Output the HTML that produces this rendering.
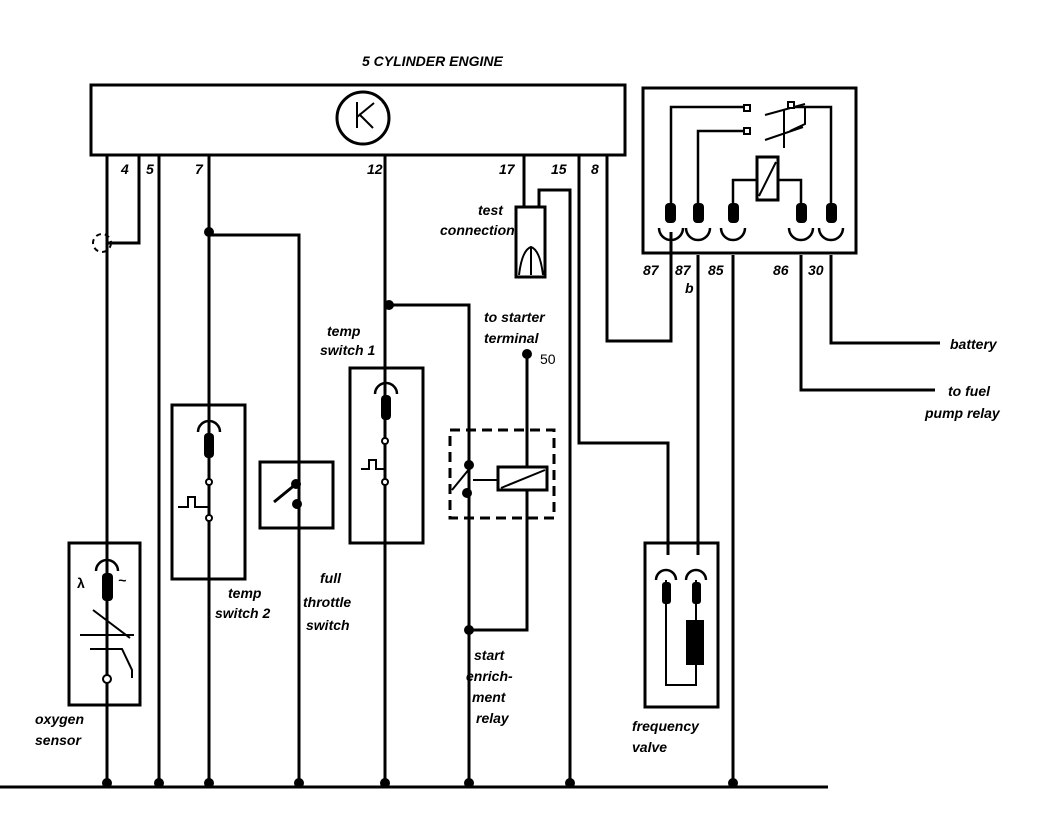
<!DOCTYPE html>
<html><head><meta charset="utf-8"><style>
body{margin:0;background:#fff}
svg{display:block}
text{font-family:"Liberation Sans",sans-serif;font-style:italic;font-weight:bold;font-size:14px;fill:#000}
</style></head><body>
<svg width="1056" height="826" viewBox="0 0 1056 826" xmlns="http://www.w3.org/2000/svg">
<g fill="none" stroke="#000" stroke-width="3">
<rect x="91" y="85" width="534" height="70"/>
<circle cx="363" cy="118" r="26"/>
<path d="M357 102V128M357 117L374 103M359 114L373 128" stroke-width="2"/>
<path d="M0 787H828"/>
<path d="M107 155V787M139 155V243H107M159 155V787"/>
<path d="M209 155V787M209 235H299V787"/>
<path d="M385 155V787M387 305H469V787"/>
<path d="M524 155V207M539 207V190H570V787"/>
<rect x="516" y="207" width="29" height="70"/>
<path d="M519 275Q522 250 531 247Q540 250 543 275M531 247V275" stroke-width="2"/>
<path d="M579 155V443H668V555"/>
<path d="M607 155V341H671V232"/>
<rect x="643" y="88" width="213" height="165"/>
<path d="M671 212V107H745M698 212V131H745M733 212V180H757M778 180H801V212M831 212V107H792" stroke-width="2.5"/>
<rect x="757" y="157" width="21" height="43"/>
<path d="M759 196L776 162" stroke-width="2"/>
<path d="M765 115L805 104M765 140L803 127M790 131L805 124V107M784 110V148" stroke-width="2"/>
<path d="M698 255V555M733 255V787M801 255V390H935M831 255V343H940"/>
<rect x="645" y="543" width="73" height="164"/>
<path d="M666 580V685H696V580" stroke-width="2"/>
<rect x="172" y="405" width="73" height="174"/>
<rect x="260" y="462" width="73" height="66"/>
<rect x="350" y="368" width="73" height="175"/>
<rect x="69" y="543" width="71" height="162"/>
<rect x="450" y="430" width="104" height="88" stroke-dasharray="10,6"/>
<path d="M527 354V630H469"/>
<path d="M452 490L470 468M473 480H498" stroke-width="2"/>
<rect x="498" y="467" width="49" height="23" fill="#fff"/>
<path d="M501 488L545 470" stroke-width="2"/>
<path d="M274 502L296 484"/>
<path d="M178 507H188V497H195V507H209M361 469H369V460H376V469H385" stroke-width="2"/>
<path d="M80 635H134M93 610L130 638M90 649H122L132 670V678" stroke-width="2"/>
<circle cx="102" cy="243" r="9" stroke-width="2" stroke-dasharray="5,4"/>
</g>
<g fill="#fff" stroke="#000" stroke-width="2">
<circle cx="209" cy="482" r="3"/><circle cx="209" cy="518" r="3"/>
<circle cx="385" cy="441" r="3"/><circle cx="385" cy="482" r="3"/>
<circle cx="107" cy="679" r="4"/>
<rect x="744" y="105" width="6" height="6"/><rect x="788" y="102" width="6" height="6"/><rect x="744" y="128" width="6" height="6"/>
</g>
<g fill="#000">
<circle cx="209" cy="232" r="5"/><circle cx="389" cy="305" r="5"/><circle cx="527" cy="354" r="5"/>
<circle cx="469" cy="630" r="5"/><circle cx="469" cy="465" r="5"/><circle cx="467" cy="493" r="5"/>
<circle cx="296" cy="484" r="5"/><circle cx="297" cy="504" r="5"/>
<circle cx="107" cy="783" r="5"/><circle cx="159" cy="783" r="5"/><circle cx="209" cy="783" r="5"/><circle cx="299" cy="783" r="5"/><circle cx="385" cy="783" r="5"/><circle cx="469" cy="783" r="5"/><circle cx="570" cy="783" r="5"/><circle cx="733" cy="783" r="5"/>
<rect x="686" y="620" width="18" height="45"/>
<rect x="665" y="203" width="11" height="20" rx="4"/><rect x="693" y="203" width="11" height="20" rx="4"/><rect x="728" y="203" width="11" height="20" rx="4"/><rect x="796" y="203" width="11" height="20" rx="4"/><rect x="826" y="203" width="11" height="20" rx="4"/>
<rect x="204" y="433" width="10" height="25" rx="4"/><rect x="381" y="395" width="10" height="25" rx="4"/><rect x="102" y="573" width="11" height="28" rx="4"/>
<rect x="662" y="582" width="9" height="22" rx="3"/><rect x="692" y="582" width="9" height="22" rx="3"/>
</g>
<g fill="none" stroke="#000" stroke-width="2.5">
<path d="M659 228a12 12 0 0 0 24 0M686 228a12 12 0 0 0 24 0M721 228a12 12 0 0 0 24 0M789 228a12 12 0 0 0 24 0M819 228a12 12 0 0 0 24 0"/>
<path d="M198 432a11 11 0 0 1 22 0M375 394a11 11 0 0 1 22 0M96 571a11 11 0 0 1 22 0M656 580a10 10 0 0 1 20 0M686 580a10 10 0 0 1 20 0"/>
</g>
<text x="362" y="66">5 CYLINDER ENGINE</text>
<text x="121" y="174">4</text><text x="146" y="174">5</text><text x="195" y="174">7</text><text x="367" y="174">12</text>
<text x="499" y="174">17</text><text x="551" y="174">15</text><text x="591" y="174">8</text>
<text x="478" y="215">test</text><text x="440" y="235">connection</text>
<text x="643" y="275">87</text><text x="675" y="275">87</text><text x="708" y="275">85</text><text x="773" y="275">86</text><text x="808" y="275">30</text>
<text x="685" y="293">b</text>
<text x="484" y="322">to starter</text><text x="484" y="343">terminal</text><text x="540" y="364" style="font-style:normal;font-weight:normal">50</text>
<text x="327" y="336">temp</text><text x="320" y="355">switch 1</text>
<text x="950" y="349">battery</text>
<text x="948" y="396">to fuel</text><text x="925" y="418">pump relay</text>
<text x="228" y="598">temp</text><text x="215" y="618">switch 2</text>
<text x="320" y="583">full</text><text x="303" y="607">throttle</text><text x="306" y="630">switch</text>
<text x="474" y="660">start</text><text x="466" y="681">enrich-</text><text x="472" y="702">ment</text><text x="476" y="723">relay</text>
<text x="632" y="731">frequency</text><text x="632" y="752">valve</text>
<text x="35" y="724">oxygen</text><text x="35" y="745">sensor</text>
<text x="77" y="588" style="font-style:normal">λ</text><text x="118" y="585">~</text>
</svg>
</body></html>
